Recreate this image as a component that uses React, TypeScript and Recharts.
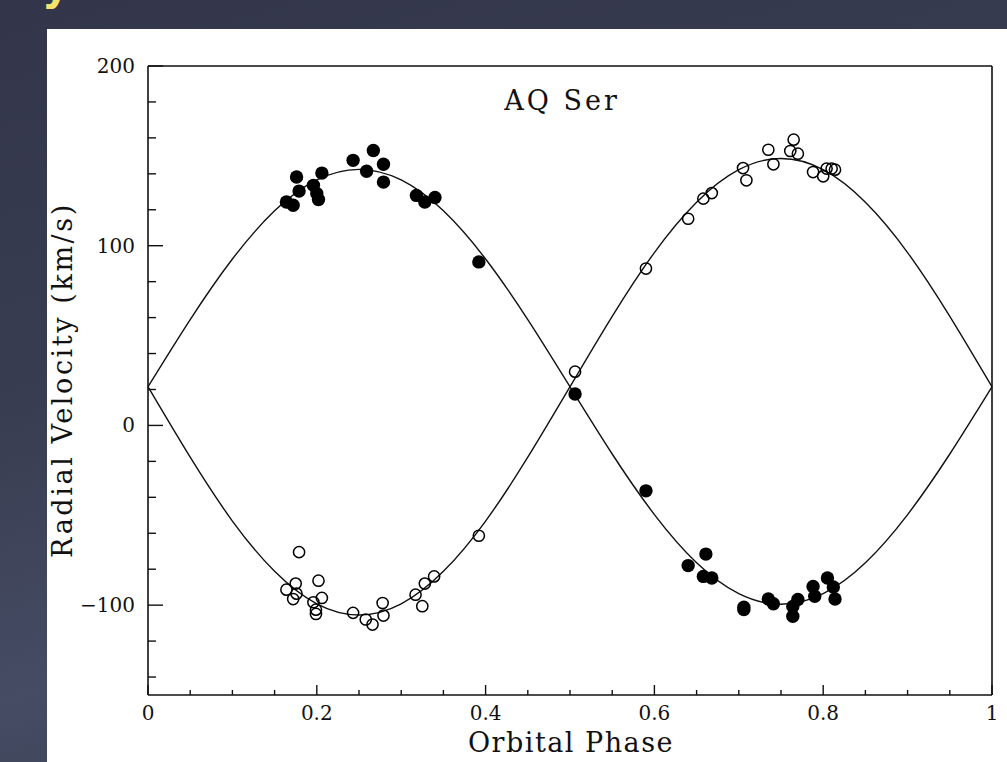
import React from "react"
import { ComposedChart, Line, Scatter, XAxis, YAxis } from "recharts"

// model curves every 0.05 in phase
const curvePhases = [0, 0.05, 0.1, 0.15, 0.2, 0.25, 0.3, 0.35, 0.4, 0.45, 0.5, 0.55, 0.6, 0.65, 0.7, 0.75, 0.8, 0.85, 0.9, 0.95, 1]
const primaryCurve = [21.5, 58.9, 92.6, 119.4, 136.6, 142.5, 136.6, 119.4, 92.6, 58.9, 21.5, -15.9, -49.6, -76.4, -93.6, -99.5, -93.6, -76.4, -49.6, -15.9, 21.5]
const secondaryCurve = [21.5, -17.7, -53.2, -81.2, -99.3, -105.5, -99.3, -81.2, -53.2, -17.7, 21.5, 60.7, 96.2, 124.2, 142.3, 148.5, 142.3, 124.2, 96.2, 60.7, 21.5]

// filled circles (primary star)
const primaryPhases = [0.164, 0.172, 0.176, 0.179, 0.196, 0.2, 0.202, 0.206, 0.243, 0.259, 0.267, 0.279, 0.279, 0.318, 0.328, 0.34, 0.392, 0.506, 0.59, 0.64, 0.658, 0.661, 0.668, 0.706, 0.706, 0.735, 0.741, 0.764, 0.764, 0.77, 0.788, 0.79, 0.805, 0.812, 0.814]
const primaryRV = [124.3, 122.5, 138.2, 130.4, 133.6, 129, 125.7, 140.4, 147.5, 141.4, 153, 145.3, 135.4, 128, 124.3, 126.8, 91, 17.5, -36.4, -78, -84, -71.6, -84.9, -101.2, -102.5, -96.6, -99.2, -106.2, -100.7, -96.9, -89.6, -95.1, -84.9, -89.9, -96.6]

// open circles (secondary star)
const secondaryPhases = [0.164, 0.172, 0.175, 0.176, 0.179, 0.196, 0.199, 0.199, 0.202, 0.206, 0.243, 0.258, 0.266, 0.278, 0.279, 0.317, 0.325, 0.328, 0.339, 0.392, 0.506, 0.59, 0.64, 0.658, 0.668, 0.705, 0.709, 0.735, 0.741, 0.761, 0.765, 0.77, 0.788, 0.8, 0.804, 0.81, 0.814]
const secondaryRV = [-91.4, -96.6, -88, -93.6, -70.5, -98.4, -102.5, -104.9, -86.4, -96, -104.3, -108, -110.8, -98.8, -105.8, -94.2, -100.6, -88, -84, -61.4, 29.9, 87.3, 115, 126.2, 129.3, 143.2, 136.4, 153.4, 145.3, 152.7, 159, 151.2, 141, 138.6, 142.9, 142.9, 142.3]

const xTicks = [0, 0.05, 0.1, 0.15, 0.2, 0.25, 0.3, 0.35, 0.4, 0.45, 0.5, 0.55, 0.6, 0.65, 0.7, 0.75, 0.8, 0.85, 0.9, 0.95, 1]
const yTicks = [-140, -120, -100, -80, -60, -40, -20, 0, 20, 40, 60, 80, 100, 120, 140, 160, 180, 200]

const zip = (xs: number[], ys: number[]) => xs.map((p, i) => ({ phase: p, v: ys[i] }))

const primaryLine = zip(curvePhases, primaryCurve)
const secondaryLine = zip(curvePhases, secondaryCurve)
const primaryPts = zip(primaryPhases, primaryRV)
const secondaryPts = zip(secondaryPhases, secondaryRV)

const INK = "#111"
const FONT = "DejaVu Serif"

const isMajorX = (v: number) => Math.abs(v * 5 - Math.round(v * 5)) < 1e-6
const isMajorY = (v: number) => v % 100 === 0

const fmtY = (v: number) => (v < 0 ? "\u2212" + Math.abs(v) : String(v))

const XTick = (props: any) => {
  const { x, y, payload, side } = props
  const major = isMajorX(payload.value)
  const len = major ? 10 : 5
  const dir = side === "top" ? 1 : -1
  return (
    <g>
      <line x1={x} x2={x} y1={y} y2={y + dir * len} stroke={INK} strokeWidth={1.4} />
      {side === "bottom" && major && (
        <text x={x} y={y + 25} textAnchor="middle" fontFamily={FONT} fontSize={20} fill={INK}>
          {String(Math.round(payload.value * 10) / 10)}
        </text>
      )}
    </g>
  )
}

const YTick = (props: any) => {
  const { x, y, payload, side } = props
  const major = isMajorY(payload.value)
  const len = major ? 15 : 8
  const dir = side === "left" ? 1 : -1
  return (
    <g>
      <line x1={x} x2={x + dir * len} y1={y} y2={y} stroke={INK} strokeWidth={1.4} />
      {side === "left" && major && (
        <text x={x - 13} y={y + 7} textAnchor="end" fontFamily={FONT} fontSize={20} fill={INK}>
          {fmtY(payload.value)}
        </text>
      )}
    </g>
  )
}

const FilledDot = (props: any) => <circle cx={props.cx} cy={props.cy} r={6.7} fill="#000" />
const OpenDot = (props: any) => (
  <circle cx={props.cx} cy={props.cy} r={5.6} fill="none" stroke="#000" strokeWidth={1.5} />
)

const axisLine = { stroke: INK, strokeWidth: 1.6 }

export default function App() {
  return (
    <div
      style={{
        position: "absolute",
        left: 0,
        top: 0,
        width: 1007,
        height: 762,
        overflow: "hidden",
        background: "linear-gradient(165deg, #33364a 0%, #393d52 40%, #454c63 68%, #363a4d 100%)",
      }}
    >
      <svg width={1007} height={40} style={{ position: "absolute", left: 0, top: 0 }}>
        <text x={42} y={0} fontFamily="DejaVu Sans" fontWeight="bold" fontSize={42} fill="#f2e46c">
          y
        </text>
      </svg>
      <div style={{ position: "absolute", left: 47, top: 29, right: 0, bottom: 0, background: "#fff" }} />
      <div style={{ position: "absolute", left: 0, top: 0 }}>
        <ComposedChart width={1007} height={762} margin={{ top: 65, right: 14, bottom: 66, left: 147 }}>
          <XAxis
            xAxisId="b"
            dataKey="phase"
            type="number"
            domain={[0, 1]}
            ticks={xTicks}
            interval={0}
            height={1}
            tickSize={0}
            tickMargin={0}
            tickLine={false}
            axisLine={axisLine}
            tick={<XTick side="bottom" />}
          />
          <XAxis
            xAxisId="t"
            orientation="top"
            dataKey="phase"
            type="number"
            domain={[0, 1]}
            ticks={xTicks}
            interval={0}
            height={1}
            tickSize={0}
            tickMargin={0}
            tickLine={false}
            axisLine={axisLine}
            tick={<XTick side="top" />}
          />
          <YAxis
            yAxisId="l"
            type="number"
            domain={[-150, 200]}
            ticks={yTicks}
            interval={0}
            width={1}
            tickSize={0}
            tickMargin={0}
            tickLine={false}
            axisLine={axisLine}
            tick={<YTick side="left" />}
          />
          <YAxis
            yAxisId="r"
            orientation="right"
            type="number"
            domain={[-150, 200]}
            ticks={yTicks}
            interval={0}
            width={1}
            tickSize={0}
            tickMargin={0}
            tickLine={false}
            axisLine={axisLine}
            tick={<YTick side="right" />}
          />
          <Line
            xAxisId="b"
            yAxisId="l"
            data={primaryLine}
            dataKey="v"
            type="natural"
            stroke={INK}
            strokeWidth={1.4}
            dot={false}
            activeDot={false}
            isAnimationActive={false}
          />
          <Line
            xAxisId="b"
            yAxisId="l"
            data={secondaryLine}
            dataKey="v"
            type="natural"
            stroke={INK}
            strokeWidth={1.4}
            dot={false}
            activeDot={false}
            isAnimationActive={false}
          />
          <Scatter xAxisId="b" yAxisId="l" data={primaryPts} dataKey="v" shape={<FilledDot />} isAnimationActive={false} />
          <Scatter xAxisId="b" yAxisId="l" data={secondaryPts} dataKey="v" shape={<OpenDot />} isAnimationActive={false} />
        </ComposedChart>
      </div>
      <svg width={1007} height={762} style={{ position: "absolute", left: 0, top: 0, pointerEvents: "none" }}>
        <text x={562} y={110} textAnchor="middle" fontFamily={FONT} fontSize={27} letterSpacing={3} fill={INK}>
          AQ Ser
        </text>
        <text x={571} y={752} textAnchor="middle" fontFamily={FONT} fontSize={27} letterSpacing={1.5} fill={INK}>
          Orbital Phase
        </text>
        <text
          x={0}
          y={0}
          transform="translate(72 380) rotate(-90)"
          textAnchor="middle"
          fontFamily={FONT}
          fontSize={27}
          letterSpacing={2.6}
          fill={INK}
        >
          Radial Velocity (km/s)
        </text>
      </svg>
    </div>
  )
}
